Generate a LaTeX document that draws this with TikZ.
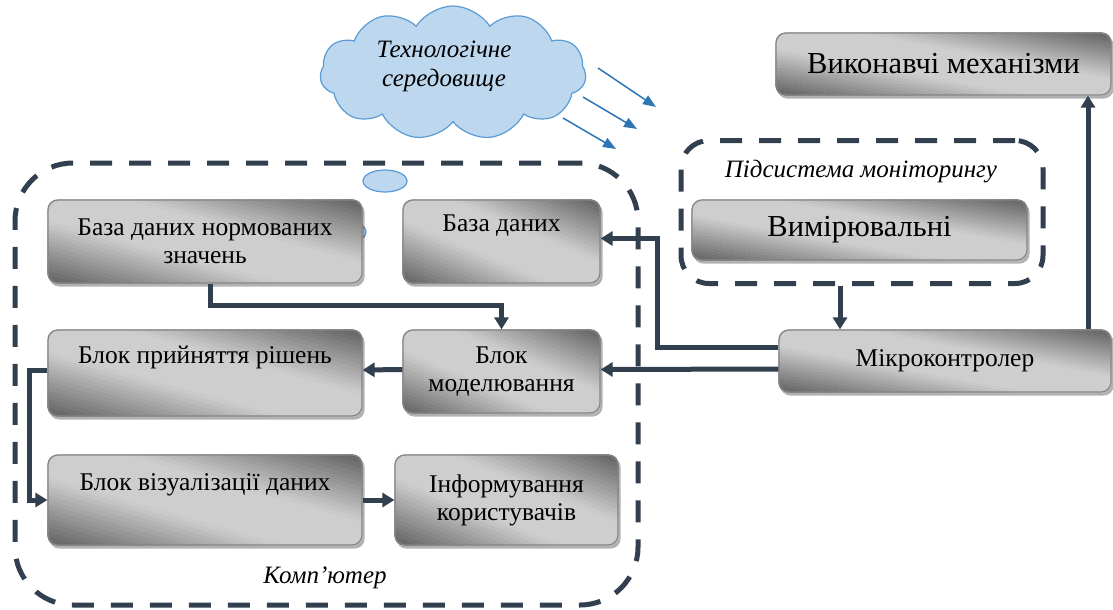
\documentclass[tikz,border=0pt]{standalone}
\usepackage{fontspec}
\setmainfont{Liberation Serif}
\usetikzlibrary{arrows.meta,shapes.symbols,shapes.geometric,backgrounds}
\definecolor{slate}{HTML}{323F4F}
\definecolor{cloudfill}{HTML}{BDD7EE}
\definecolor{cloudline}{HTML}{5B9BD5}
\definecolor{bluearrow}{HTML}{2E75B6}
\definecolor{boxdark}{HTML}{606060}
\definecolor{boxlight}{HTML}{CECECE}
\definecolor{boxedge}{HTML}{858585}
% shaded background of a box: node name, width, height
\newcommand{\shadebox}[3]{%
  \begin{pgfonlayer}{background}
    \fill[black, opacity=0.3, rounded corners=10pt] ([xshift=2pt,yshift=-3pt]#1.south west) rectangle ([xshift=2pt,yshift=-3pt]#1.north east);
    \begin{scope}
      \clip[rounded corners=10pt] (#1.south west) rectangle (#1.north east);
      \fill[boxlight] (#1.south west) rectangle (#1.north east);
      \begin{scope}[shift={(#1.center)}, xscale=#2/2, yscale=#3/2]
        \foreach \t in {-2.0,-1.9,...,1.95} {
          \pgfmathsetmacro{\p}{100*min(1,max(0,(2-abs(\t+0.05))/1.5))}
          \fill[boxlight!\p!boxdark] (-3,{-3-\t}) -- (3,{3-\t}) -- (3,{3-\t-0.11}) -- (-3,{-3-\t-0.11}) -- cycle;
        }
      \end{scope}
    \end{scope}
  \end{pgfonlayer}}
\begin{document}
\begin{tikzpicture}[x=1pt,y=-1pt,
  blk/.style={draw=boxedge, line width=1.2pt, rounded corners=10pt,
    align=center, font=\fontsize{25.5}{28}\selectfont, inner sep=0pt},
  bigblk/.style={blk, font=\fontsize{30.5}{34}\selectfont},
  frame/.style={draw=slate, line width=5pt, dash pattern=on 22pt off 17pt, inner sep=0pt},
  conn/.style={draw=slate, line width=5pt, -{Triangle[length=12pt,width=14pt]}},
  blue/.style={draw=bluearrow, line width=1.5pt, -{Triangle[length=13pt,width=10pt]}},
  lbl/.style={font=\fontsize{25}{28}\selectfont\itshape, inner sep=0pt},
  bubble/.style={draw=cloudline, fill=cloudfill, line width=1.2pt}
]
\useasboundingbox (0,0) rectangle (1113,610);

% cloud
\node[cloud, cloud puffs=11, cloud puff arc=115, aspect=2, bubble,
      minimum width=266pt, minimum height=134pt, inner sep=0pt] (cloud) at (453,73) {};
\node[lbl, align=center, font=\fontsize{25}{29}\selectfont\itshape] (cloudtext) at (444,66) {Технологічне\\середовище};
\node[bubble, ellipse, minimum width=44pt, minimum height=22pt, inner sep=0pt] (bub1) at (385,181) {};
\begin{pgfonlayer}{background}
\node[bubble, ellipse, minimum width=14pt, minimum height=14pt, inner sep=0pt] (bub2) at (359,232) {};
\end{pgfonlayer}

% blue arrows
\coordinate (ba1s) at (598,68);  \coordinate (ba1e) at (656,107);
\coordinate (ba2s) at (583,97);  \coordinate (ba2e) at (637,129);
\coordinate (ba3s) at (563,118); \coordinate (ba3e) at (616,149);
\draw[blue] (ba1s) -- (ba1e);
\draw[blue] (ba2s) -- (ba2e);
\draw[blue] (ba3s) -- (ba3e);

% frames
\node[frame, rounded corners=58pt, minimum width=623pt, minimum height=442pt] (comp) at (326.5,384) {};
\node[lbl] (complbl) at (325,578) {Комп’ютер};
\node[frame, rounded corners=28pt, minimum width=362pt, minimum height=143pt] (mon) at (862,212) {};
\node[lbl] (monlbl) at (861,172) {Підсистема моніторингу};

% boxes
\node[blk, minimum width=314pt, minimum height=83pt] (normdb) at (205,241.5) {База даних нормованих\\значень};
\node[blk, minimum width=197pt, minimum height=83pt] (db) at (501.5,241.5) {База даних\\\strut};
\node[blk, minimum width=314pt, minimum height=86pt] (decision) at (205,373) {Блок прийняття рішень\\\strut};
\node[blk, minimum width=197pt, minimum height=83pt] (model) at (501.5,371.5) {Блок\\моделювання};
\node[blk, minimum width=314pt, minimum height=90pt] (visual) at (205,500) {Блок візуалізації даних\\\strut};
\node[blk, minimum width=223pt, minimum height=90pt] (inform) at (506.5,500) {Інформування\\користувачів};
\node[bigblk, minimum width=335pt, minimum height=62pt] (act) at (943.5,64) {Виконавчі механізми};
\node[bigblk, minimum width=335pt, minimum height=60pt] (meas) at (859.5,230) {Вимірювальні};
\node[blk, minimum width=332pt, minimum height=62pt] (mcu) at (945,361) {Мікроконтролер};

\shadebox{normdb}{314}{83}
\shadebox{db}{197}{83}
\shadebox{decision}{314}{86}
\shadebox{model}{197}{83}
\shadebox{visual}{314}{90}
\shadebox{inform}{223}{90}
\shadebox{act}{335}{62}
\shadebox{meas}{335}{60}
\shadebox{mcu}{332}{62}

% connectors
\draw[conn] ([xshift=5pt]normdb.south) -- ++(0,22) -| (model.north);
\draw[conn] ([yshift=14pt]mcu.west) -- ++(-121,0) |- ([yshift=3pt]db.east);
\draw[conn] ([yshift=-8pt]mcu.west) -- ([yshift=2pt]model.east);
\draw[conn] ([yshift=2pt]model.west) -- ([yshift=3pt]decision.east);
\draw[conn] ([yshift=3pt]decision.west) -- ++(-18,0) |- (visual.west);
\draw[conn] (visual.east) -- (inform.west);
\draw[conn] ([xshift=-22pt]mon.south) -- ([xshift=-105pt]mcu.north);
\draw[conn] ([xshift=143pt]mcu.north) -- ([xshift=144.5pt]act.south);
\end{tikzpicture}
\end{document}
